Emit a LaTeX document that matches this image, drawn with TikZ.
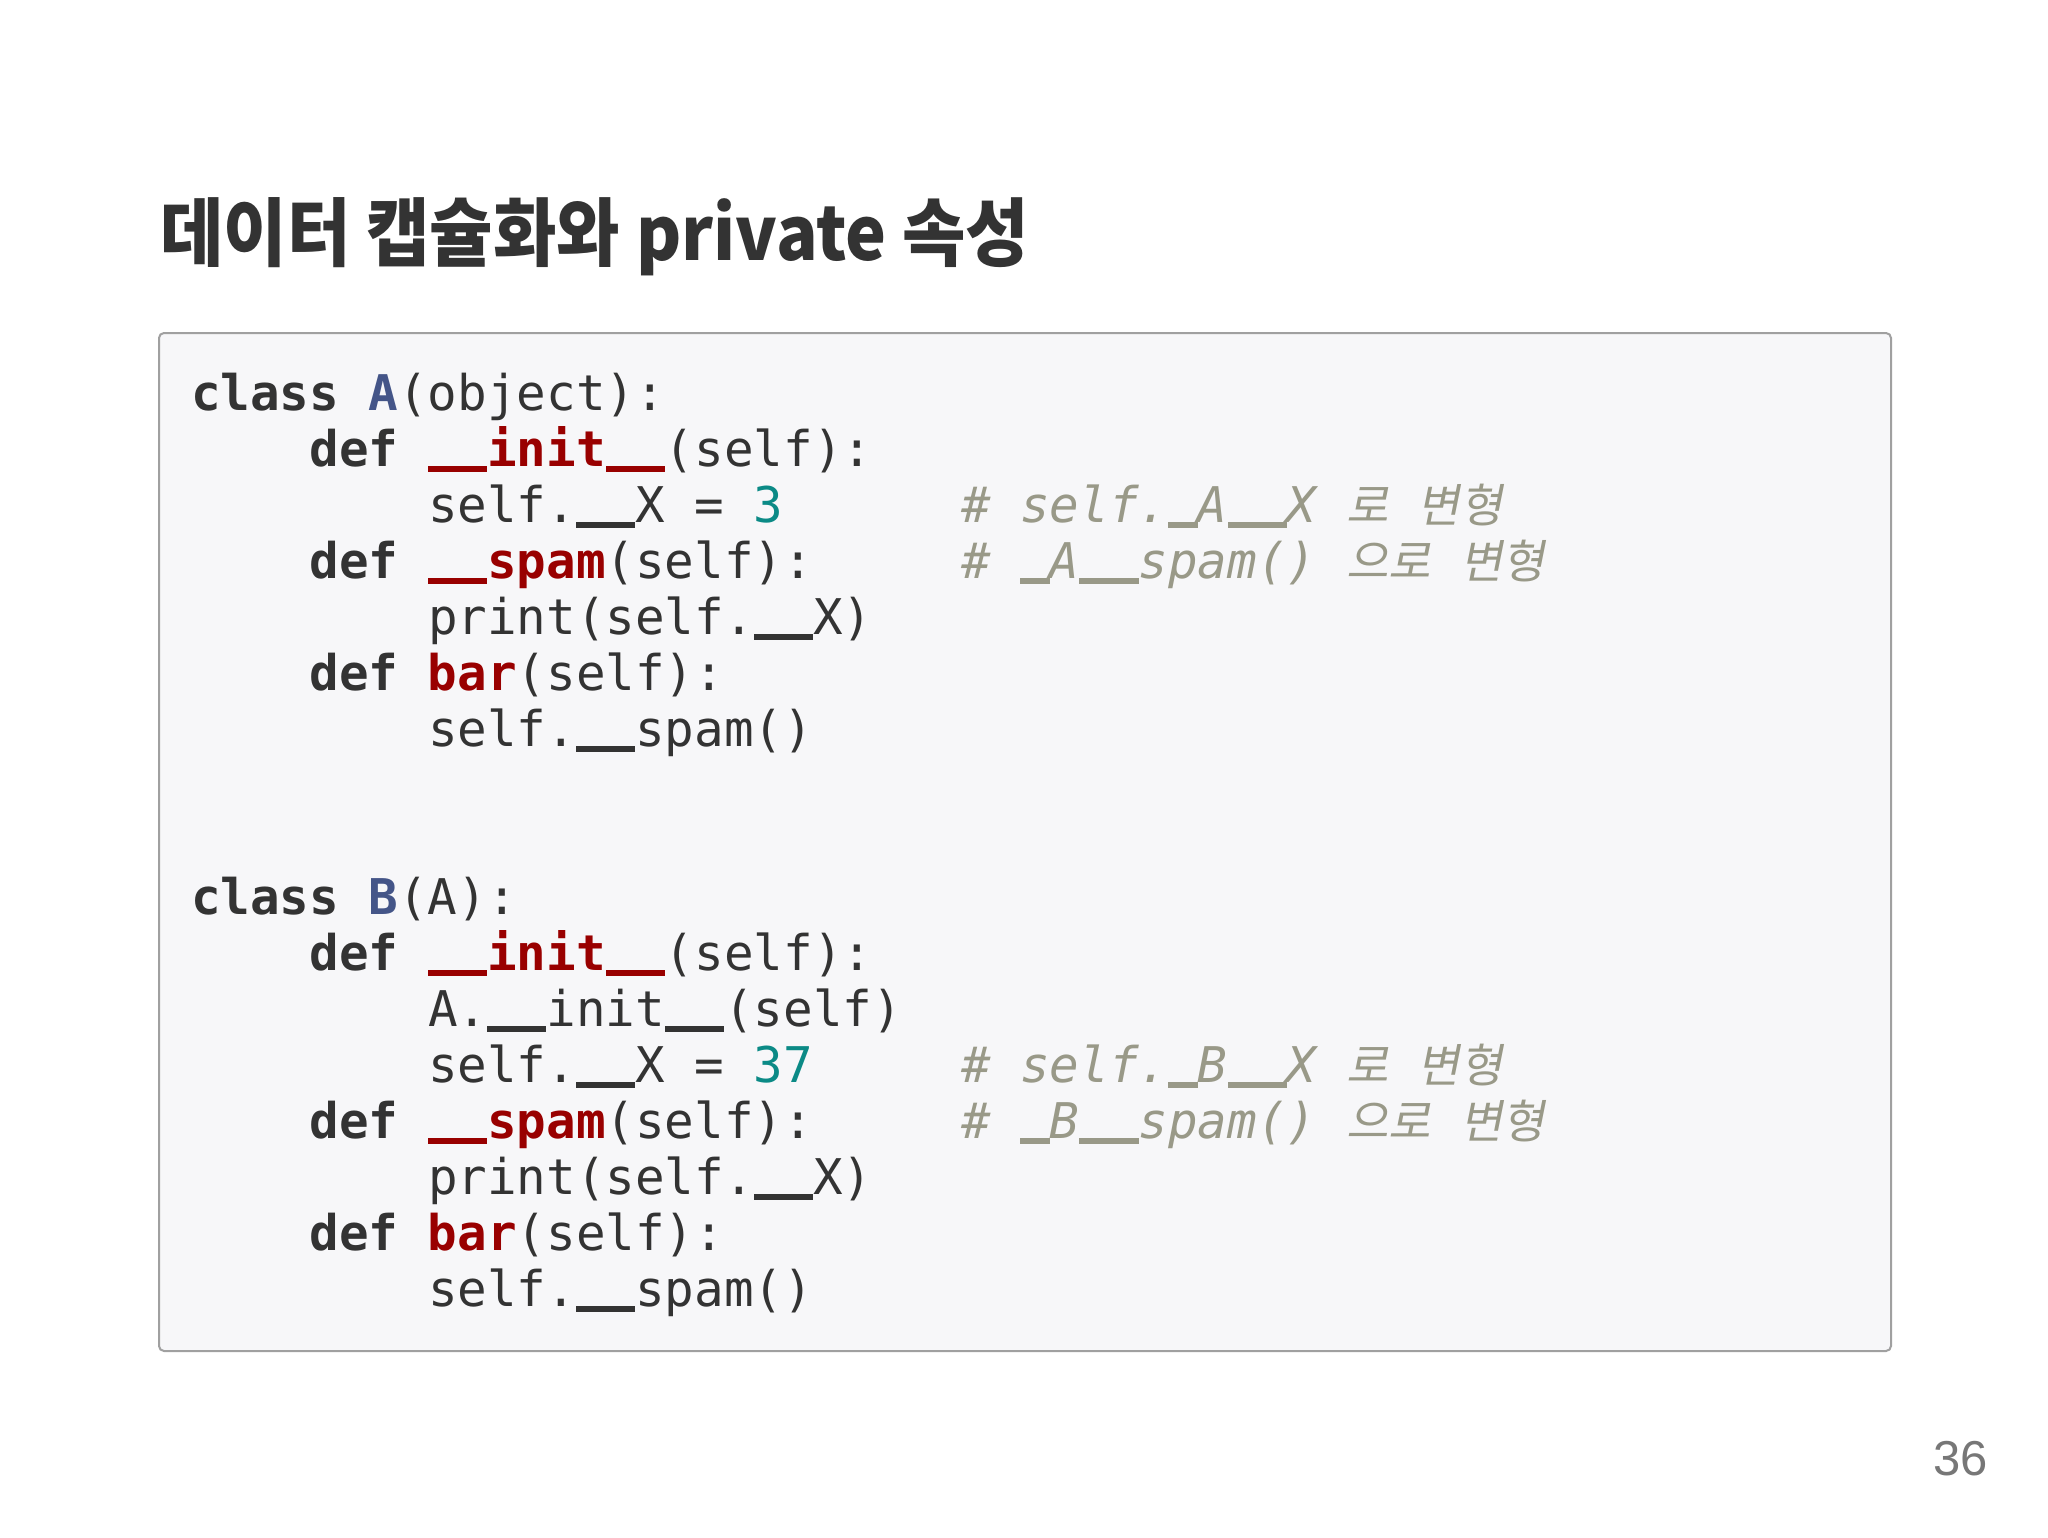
\documentclass[tikz,border=0pt]{standalone}
\usepackage{fontspec}
\setmonofont{DejaVu Sans Mono}
\newfontfamily\krfont{Noto Sans CJK KR}
\newfontfamily\krc[FakeSlant=0.2]{Noto Sans CJK KR}
\newfontfamily\numfont{Liberation Sans}
\definecolor{txt}{HTML}{333333}
\definecolor{kwc}{HTML}{333333}
\definecolor{clsc}{HTML}{445588}
\definecolor{fnc}{HTML}{990000}
\definecolor{numc}{HTML}{0B8A86}
\definecolor{cmc}{HTML}{999988}
\definecolor{boxfill}{HTML}{F7F7F9}
\definecolor{boxline}{HTML}{A0A0A0}
\definecolor{pgc}{HTML}{777777}
\definecolor{titlec}{HTML}{333333}
\newcommand\us{\makebox[0.602em][l]{\rule[-0.13em]{0.602em}{0.13em}}}
\newcommand\kw[1]{{\bfseries\color{kwc}#1}}
\newcommand\cl[1]{{\bfseries\color{clsc}#1}}
\newcommand\fn[1]{{\bfseries\color{fnc}#1}}
\newcommand\nm[1]{{\color{numc}#1}}
\newcommand\kr[1]{{\fontsize{46pt}{46pt}\krc #1}}
\begin{document}
\begin{tikzpicture}[x=1pt,y=1pt,
  code/.style={anchor=base west,inner sep=0pt,outer sep=0pt,text=txt,
    font=\fontsize{49.2pt}{56pt}\ttfamily},
  cmt/.style={code,text=cmc,font=\fontsize{49.2pt}{56pt}\ttfamily\itshape}]
\useasboundingbox[fill=white] (0,0) rectangle (2048,-1538);
\node[anchor=base west,inner sep=0pt,text=titlec,font=\fontsize{69pt}{72pt}\krfont\bfseries,yscale=1.08] (title) at (160,-261) {데이터 캡슐화와 private 속성};
\draw[draw=boxline,line width=2pt,fill=boxfill,rounded corners=5pt] (159,-333) rectangle (1891,-1351);
% columns: 0 -> 191, 4 -> 309.5, 8 -> 428, 26 -> 961
\node[code] (a1) at (191,-410) {\kw{class} \cl{A}(object):};
\node[code] (a2) at (309.5,-466) {\kw{def} \fn{\us\us init\us\us}(self):};
\node[code] (a3) at (428,-522) {self.\us\us X = \nm{3}};
\node[cmt] (c3) at (961,-522) {\# self.\us A\us\us X \kr{로} \kr{변형}};
\node[code] (a4) at (309.5,-578) {\kw{def} \fn{\us\us spam}(self):};
\node[cmt] (c4) at (961,-578) {\# \us A\us\us spam() \kr{으로} \kr{변형}};
\node[code] (a5) at (428,-634) {print(self.\us\us X)};
\node[code] (a6) at (309.5,-690) {\kw{def} \fn{bar}(self):};
\node[code] (a7) at (428,-746) {self.\us\us spam()};
\node[code] (b1) at (191,-914) {\kw{class} \cl{B}(A):};
\node[code] (b2) at (309.5,-970) {\kw{def} \fn{\us\us init\us\us}(self):};
\node[code] (b3) at (428,-1026) {A.\us\us init\us\us(self)};
\node[code] (b4) at (428,-1082) {self.\us\us X = \nm{37}};
\node[cmt] (d4) at (961,-1082) {\# self.\us B\us\us X \kr{로} \kr{변형}};
\node[code] (b5) at (309.5,-1138) {\kw{def} \fn{\us\us spam}(self):};
\node[cmt] (d5) at (961,-1138) {\# \us B\us\us spam() \kr{으로} \kr{변형}};
\node[code] (b6) at (428,-1194) {print(self.\us\us X)};
\node[code] (b7) at (309.5,-1250) {\kw{def} \fn{bar}(self):};
\node[code] (b8) at (428,-1306) {self.\us\us spam()};
\node[anchor=base east,inner sep=0pt,text=pgc,font=\fontsize{49pt}{49pt}\numfont] (page) at (1988,-1475) {36};
\end{tikzpicture}
\end{document}
